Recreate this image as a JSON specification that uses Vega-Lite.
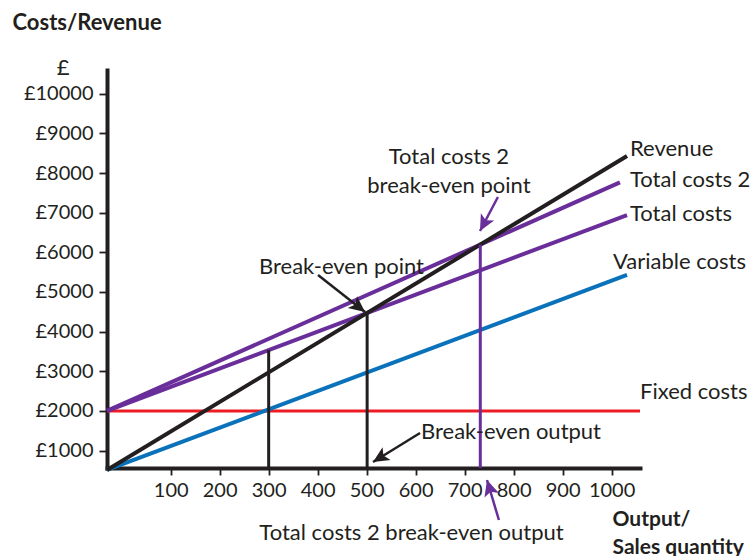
{
  "$schema": "https://vega.github.io/schema/vega-lite/v6.json",
  "width": 533,
  "height": 398,
  "autosize": {"type": "none"},
  "padding": {"left": 107, "top": 70, "right": 114, "bottom": 88},
  "background": "white",
  "config": {"view": {"stroke": null}, "font": "Lato", "axis": {"grid": false}},
  "datasets": {
    "lines": [
      {"series": "Variable costs", "x": -30, "y": 510},
      {"series": "Variable costs", "x": 1031.5, "y": 5429},
      {"series": "Total costs", "x": -30, "y": 2000},
      {"series": "Total costs", "x": 1031.5, "y": 6942},
      {"series": "Total costs 2", "x": -30, "y": 2000},
      {"series": "Total costs 2", "x": 1017, "y": 7765},
      {"series": "Revenue", "x": -30, "y": 510},
      {"series": "Revenue", "x": 1031.5, "y": 8430}
    ],
    "fixed": [
      {"series": "Fixed costs", "x": -30, "y": 2000},
      {"series": "Fixed costs", "x": 1058, "y": 2000}
    ],
    "drops": [
      {"kind": "black", "x": 300, "y": 560, "y2": 3536},
      {"kind": "black", "x": 501, "y": 560, "y2": 4472},
      {"kind": "purple", "x": 732, "y": 560, "y2": 6195}
    ],
    "arrows": [
      {"arrow": "bep", "kind": "black", "x": 400.7, "y": 5429, "x2": 496.7, "y2": 4495},
      {"arrow": "beo", "kind": "black", "x": 609, "y": 1443, "x2": 513, "y2": 711},
      {"arrow": "tc2bep", "kind": "purple", "x": 768, "y": 7396, "x2": 731.4, "y2": 6539},
      {"arrow": "tc2beo", "kind": "purple", "x": 770, "y": -752, "x2": 745.7, "y2": 257}
    ],
    "heads": [
      {"arrow": "bep", "x": 496.7, "y": 4495},
      {"arrow": "beo", "x": 513, "y": 711},
      {"arrow": "tc2bep", "x": 731.4, "y": 6539},
      {"arrow": "tc2beo", "x": 745.7, "y": 257}
    ],
    "labels": [
      {"label": "£", "align": "center", "x": -119.8, "y": 10650},
      {"label": "Revenue", "align": "left", "x": 1037.6, "y": 8607},
      {"label": "Total costs 2", "align": "left", "x": 1037.6, "y": 7825},
      {"label": "Total costs", "align": "left", "x": 1037.6, "y": 6967},
      {"label": "Variable costs", "align": "left", "x": 1003, "y": 5757},
      {"label": "Fixed costs", "align": "left", "x": 1058, "y": 2477},
      {"label": "Break-even output", "align": "left", "x": 611, "y": 1468},
      {"label": "Break-even point", "align": "center", "x": 448.7, "y": 5630},
      {"label": "Total costs 2", "align": "center", "x": 668, "y": 8405},
      {"label": "break-even point", "align": "center", "x": 668, "y": 7674},
      {"label": "Total costs 2 break-even output", "align": "center", "x": 591.6, "y": -1080}
    ]
  },
  "encoding": {
    "x": {
      "field": "x",
      "type": "quantitative",
      "scale": {"domain": [-30, 1058], "nice": false, "zero": false},
      "axis": {
        "values": [100, 200, 300, 400, 500, 600, 700, 800, 900, 1000],
        "labelExpr": "'' + datum.value",
        "title": ["Output/", "Sales quantity"],
        "titleFont": "Lato",
        "titleFontWeight": "bold",
        "titleFontSize": 21,
        "titleColor": "#231f20",
        "titleAlign": "left",
        "titleAnchor": "start",
        "titleBaseline": "top",
        "titleX": 505,
        "titleY": 40,
        "titleLineHeight": 28,
        "labelFont": "Lato",
        "labelFontSize": 20,
        "labelColor": "#231f20",
        "labelPadding": 5,
        "labelFlush": false,
        "labelOverlap": false,
        "tickSize": 7,
        "tickWidth": 1.8,
        "tickColor": "#231f20",
        "domainColor": "#231f20",
        "domainWidth": 4,
        "domainCap": "square"
      }
    },
    "y": {
      "field": "y",
      "type": "quantitative",
      "scale": {"domain": [560, 10600], "nice": false, "zero": false},
      "axis": {
        "values": [1000, 2000, 3000, 4000, 5000, 6000, 7000, 8000, 9000, 10000],
        "labelExpr": "'£' + datum.value",
        "title": "Costs/Revenue",
        "titleAngle": 0,
        "titleAlign": "left",
        "titleAnchor": "start",
        "titleBaseline": "middle",
        "titleX": -95,
        "titleY": -48,
        "titleFont": "Lato",
        "titleFontWeight": "bold",
        "titleFontSize": 22,
        "titleColor": "#231f20",
        "labelFont": "Lato",
        "labelFontSize": 20,
        "labelColor": "#231f20",
        "labelPadding": 6,
        "labelOverlap": false,
        "tickSize": 8,
        "tickWidth": 1.8,
        "tickColor": "#231f20",
        "domainColor": "#231f20",
        "domainWidth": 4,
        "domainCap": "square"
      }
    }
  },
  "layer": [
    {
      "data": {"name": "fixed"},
      "mark": {"type": "line", "color": "#ed1c24", "strokeWidth": 3},
      "encoding": {}
    },
    {
      "data": {"name": "lines"},
      "mark": {"type": "line", "strokeWidth": 4},
      "encoding": {
        "color": {
          "field": "series",
          "type": "nominal",
          "scale": {
            "domain": ["Variable costs", "Total costs", "Total costs 2", "Revenue"],
            "range": ["#0a72ba", "#6a2e9a", "#6a2e9a", "#231f20"]
          },
          "legend": null
        },
        "detail": {"field": "series"}
      }
    },
    {
      "data": {"name": "drops"},
      "transform": [{"filter": "datum.kind === 'black'"}],
      "mark": {"type": "rule", "color": "#231f20", "strokeWidth": 3},
      "encoding": {"y2": {"field": "y2"}}
    },
    {
      "data": {"name": "drops"},
      "transform": [{"filter": "datum.kind === 'purple'"}],
      "mark": {"type": "rule", "color": "#6a2e9a", "strokeWidth": 3},
      "encoding": {"y2": {"field": "y2"}}
    },
    {
      "data": {"name": "labels"},
      "transform": [{"filter": "datum.align === 'left'"}],
      "mark": {"type": "text", "align": "left", "baseline": "middle", "fontSize": 22, "font": "Lato", "color": "#231f20"},
      "encoding": {"text": {"field": "label"}}
    },
    {
      "data": {"name": "labels"},
      "transform": [{"filter": "datum.align === 'center'"}],
      "mark": {"type": "text", "align": "center", "baseline": "middle", "fontSize": 22, "font": "Lato", "color": "#231f20"},
      "encoding": {"text": {"field": "label"}}
    },
    {
      "data": {"name": "arrows"},
      "transform": [{"filter": "datum.kind === 'black'"}],
      "mark": {"type": "rule", "color": "#231f20", "strokeWidth": 2.5},
      "encoding": {"x2": {"field": "x2"}, "y2": {"field": "y2"}}
    },
    {
      "data": {"name": "arrows"},
      "transform": [{"filter": "datum.kind === 'purple'"}],
      "mark": {"type": "rule", "color": "#6a2e9a", "strokeWidth": 2.5},
      "encoding": {"x2": {"field": "x2"}, "y2": {"field": "y2"}}
    },
    {
      "data": {"name": "heads"},
      "transform": [{"filter": "datum.arrow === 'bep'"}],
      "mark": {"type": "point", "shape": "M0,0L0.8,1.7L0,1.3L-0.8,1.7Z", "filled": true, "size": 354, "angle": 128, "color": "#231f20", "opacity": 1, "strokeWidth": 0},
      "encoding": {}
    },
    {
      "data": {"name": "heads"},
      "transform": [{"filter": "datum.arrow === 'beo'"}],
      "mark": {"type": "point", "shape": "M0,0L0.8,1.7L0,1.3L-0.8,1.7Z", "filled": true, "size": 354, "angle": 238, "color": "#231f20", "opacity": 1, "strokeWidth": 0},
      "encoding": {}
    },
    {
      "data": {"name": "heads"},
      "transform": [{"filter": "datum.arrow === 'tc2bep'"}],
      "mark": {"type": "point", "shape": "M0,0L0.8,1.7L0,1.3L-0.8,1.7Z", "filled": true, "size": 354, "angle": 208, "color": "#6a2e9a", "opacity": 1, "strokeWidth": 0},
      "encoding": {}
    },
    {
      "data": {"name": "heads"},
      "transform": [{"filter": "datum.arrow === 'tc2beo'"}],
      "mark": {"type": "point", "shape": "M0,0L0.8,1.7L0,1.3L-0.8,1.7Z", "filled": true, "size": 354, "angle": 343, "color": "#6a2e9a", "opacity": 1, "strokeWidth": 0},
      "encoding": {}
    }
  ]
}
